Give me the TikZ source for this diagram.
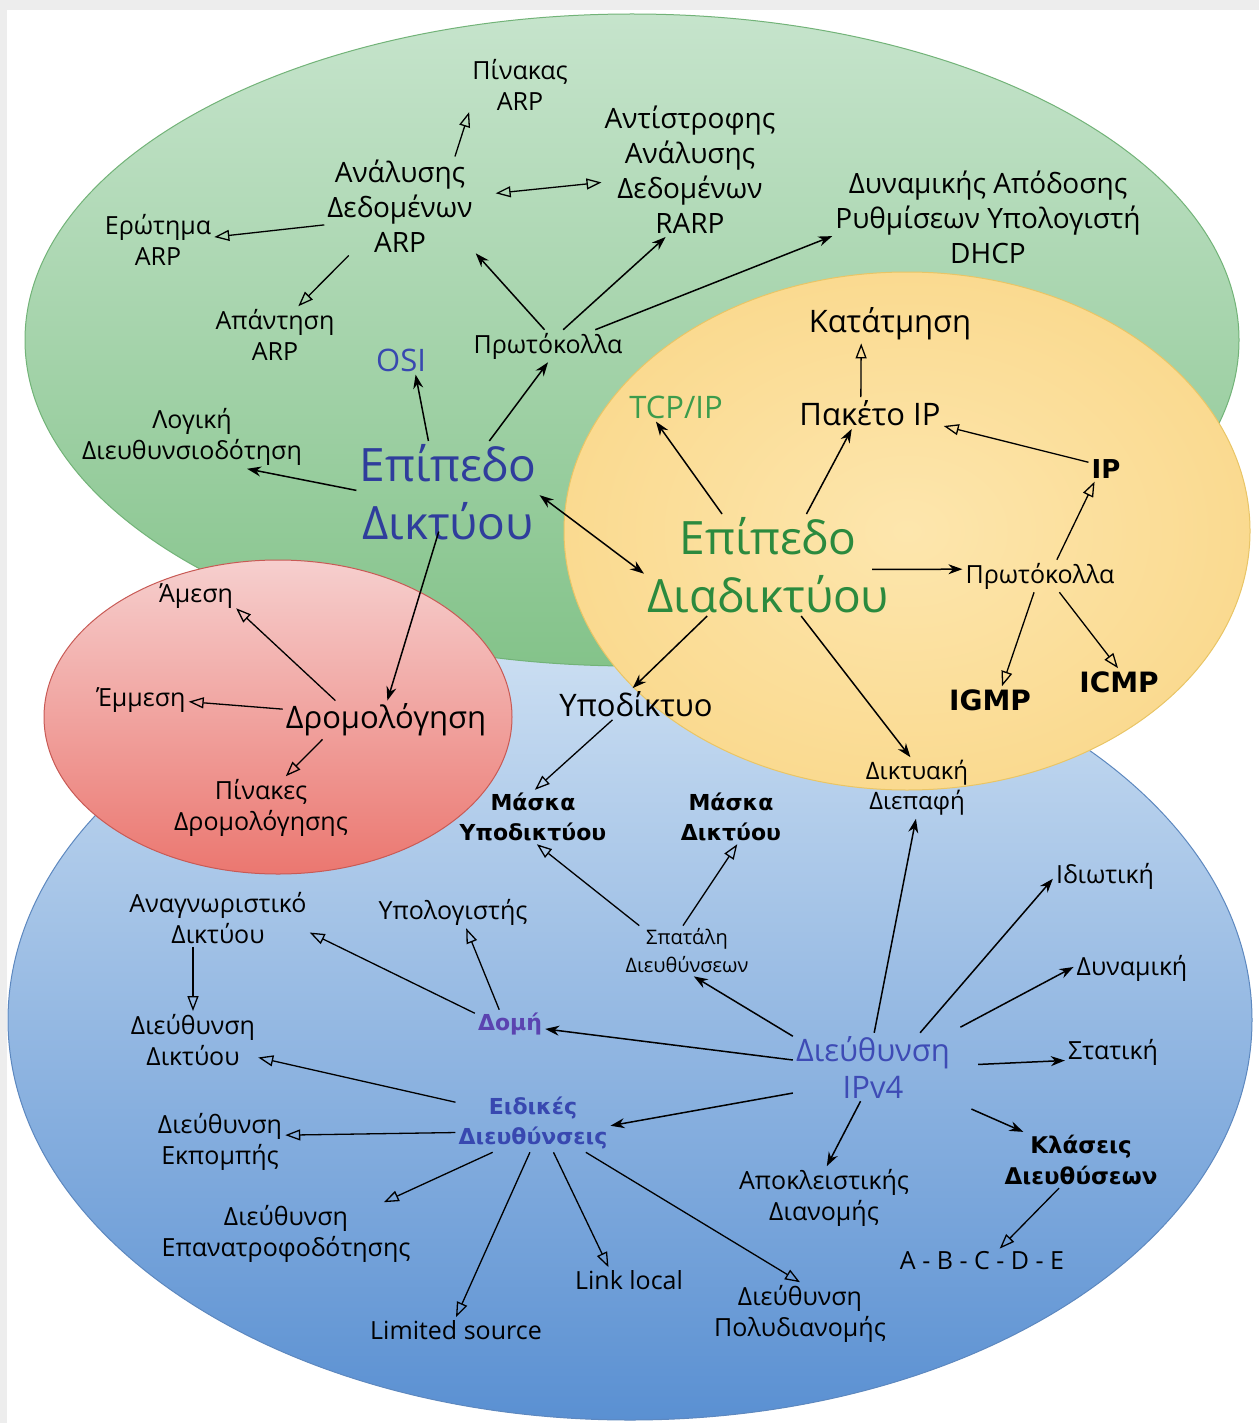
\documentclass[tikz,border=0pt]{standalone}
\usepackage{fontspec}
\setmainfont{Open Sans}
\newfontfamily\dvs{DejaVu Sans}
\usetikzlibrary{arrows.meta}
\definecolor{framegray}{HTML}{EDEDED}
\definecolor{gtop}{HTML}{C6E4CC}
\definecolor{gbot}{HTML}{84C38A}
\definecolor{gline}{HTML}{72B378}
\definecolor{yin}{HTML}{FDE6AD}
\definecolor{yout}{HTML}{FADA90}
\definecolor{yline}{HTML}{E9C566}
\definecolor{rtop}{HTML}{F6CFCE}
\definecolor{rbot}{HTML}{EB7770}
\definecolor{rline}{HTML}{C85A55}
\definecolor{btop}{HTML}{CFE1F3}
\definecolor{bbot}{HTML}{5A90D2}
\definecolor{bline}{HTML}{5D88BF}
\definecolor{edblue}{HTML}{2F3D9C}
\definecolor{osiblue}{HTML}{3848B0}
\definecolor{edigreen}{HTML}{2B8A3E}
\definecolor{tcpgreen}{HTML}{3C9C4C}
\definecolor{ipblue}{HTML}{3E4BB5}
\definecolor{domcol}{HTML}{5B43B0}
\definecolor{eidcol}{HTML}{3848B0}
\tikzset{
  ts/.style={font=\fontsize{25}{31}\selectfont, align=center, inner sep=3pt},
  tm/.style={font=\fontsize{28}{35}\selectfont, align=center, inner sep=3pt},
  tl/.style={font=\fontsize{31}{37}\selectfont, align=center, inner sep=3pt},
  tx/.style={font=\fontsize{20}{28}\selectfont, align=center, inner sep=3pt},
  big/.style={font=\fontsize{46}{58}\selectfont, align=center, inner sep=3pt},
  bs/.style={font=\dvs\bfseries\fontsize{22}{30}\selectfont, align=center, inner sep=3pt},
  bm/.style={font=\dvs\bfseries\fontsize{23}{31}\selectfont, align=center, inner sep=3pt},
  bl/.style={font=\dvs\bfseries\fontsize{28}{34}\selectfont, align=center, inner sep=3pt},
  fa/.style={arrows={-Stealth[length=14pt,width=10pt]}, line width=1.5pt},
  fab/.style={arrows={Stealth[length=14pt,width=10pt]-Stealth[length=14pt,width=10pt]}, line width=1.5pt},
  oa/.style={arrows={-Triangle[open,length=15pt,width=11pt]}, line width=1.3pt},
  oab/.style={arrows={Triangle[open,length=15pt,width=11pt]-Triangle[open,length=15pt,width=11pt]}, line width=1.3pt},
}
\begin{document}
\begin{tikzpicture}[x=1pt,y=-1pt]
\useasboundingbox (0,0) rectangle (1259,1423);
\fill[framegray] (0,0) rectangle (1259,1423);
\fill[white] (7,10) rectangle (1259,1423);
% regions
\shade[top color=btop, bottom color=bbot, draw=bline, line width=1pt] (630,1020) ellipse [x radius=622pt, y radius=400pt];
\shade[top color=gtop, bottom color=gbot, draw=gline, line width=1pt] (632,340) ellipse [x radius=607pt, y radius=326pt];
\shade[top color=rtop, bottom color=rbot, draw=rline, line width=1pt] (278,717) ellipse [x radius=234pt, y radius=157pt];
\shade[inner color=yin, outer color=yout, draw=yline, line width=1pt] (907,531) ellipse [x radius=343pt, y radius=259pt];

% green region texts
\node[ts] (pin) at (520,85) {Πίνακας\\ARP};
\node[tm] (ana) at (400,206) {Ανάλυσης\\Δεδομένων\\ARP};
\node[tm] (ant) at (690,170) {Αντίστροφης\\Ανάλυσης\\Δεδομένων\\RARP};
\node[tm] (dhcp) at (988,217) {Δυναμικής Απόδοσης\\Ρυθμίσεων Υπολογιστή\\DHCP};
\node[ts] (ero) at (158,240) {Ερώτημα\\ARP};
\node[ts] (apa) at (275,335) {Απάντηση\\ARP};
\node[tl, text=osiblue] (osi) at (401,360) {OSI};
\node[ts] (prg) at (548,346) {Πρωτόκολλα};
\node[ts] (log) at (192,437) {Λογική\\Διευθυνσιοδότηση};
\node[big, text=edblue] (ed) at (448,492) {Επίπεδο\\Δικτύου};

% yellow region texts
\node[bl, font=\dvs\bfseries\fontsize{26}{32}\selectfont] (ip) at (1106,469) {IP};
\node[tl] (kat) at (890,324) {Κατάτμηση};
\node[tl, text=tcpgreen] (tcp) at (676,407) {TCP/IP};
\node[tl] (pak) at (870,413) {Πακέτο IP};
\node[big, text=edigreen] (edi) at (768,565) {Επίπεδο\\Διαδικτύου};
\node[ts] (pry) at (1040,576) {Πρωτόκολλα};
\node[bl] (igmp) at (990,700) {IGMP};
\node[bl] (icmp) at (1119,682) {ICMP};
\node[tl] (ypo) at (636,704) {Υποδίκτυο};
\node[ts, font=\fontsize{24}{30}\selectfont] (dik) at (917,788) {Δικτυακή\\Διεπαφή};

% red region texts
\node[ts] (ame) at (196,596) {Άμεση};
\node[ts] (emm) at (141,700) {Έμμεση};
\node[tl] (dro) at (386,720) {Δρομολόγηση};
\node[ts] (pdr) at (261,808) {Πίνακες\\Δρομολόγησης};

% blue region texts
\node[bs] (msy) at (533,817) {Μάσκα\\Υποδικτύου};
\node[bs] (msd) at (731,817) {Μάσκα\\Δικτύου};
\node[ts] (ana2) at (218,918) {Αναγνωριστικό\\Δικτύου};
\node[ts] (ypl) at (453,912) {Υπολογιστής};
\node[tx] (spa) at (687,951) {Σπατάλη\\Διευθύνσεων};
\node[ts] (idi) at (1105,876) {Ιδιωτική};
\node[ts] (dyn) at (1132,968) {Δυναμική};
\node[ts] (ddi) at (193,1040) {Διεύθυνση\\Δικτύου};
\node[bs, text=domcol] (dom) at (510,1024) {Δομή};
\node[tl, text=ipblue] (ipv4) at (873,1067) {Διεύθυνση\\IPv4};
\node[ts] (sta) at (1113,1052) {Στατική};
\node[bs, text=eidcol] (eid) at (533,1123) {Ειδικές\\Διευθύνσεις};
\node[ts] (ekp) at (220,1142) {Διεύθυνση\\Εκπομπής};
\node[bm] (kla) at (1081,1160) {Κλάσεις\\Διευθύσεων};
\node[ts] (apo) at (824,1198) {Αποκλειστικής\\Διανομής};
\node[ts] (epa) at (286,1234) {Διεύθυνση\\Επανατροφοδότησης};
\node[ts] (abc) at (982,1261) {A - B - C - D - E};
\node[ts] (link) at (629,1280) {Link local};
\node[ts] (lim) at (456,1330) {Limited source};
\node[ts] (pol) at (800,1314) {Διεύθυνση\\Πολυδιανομής};

% green connectors
\draw[oa] (ana.42) -- (pin.208);
\draw[oab, shorten <=20pt] (ana.8) -- (ant.188);
\draw[oa] (ana.194) -- (ero.3);
\draw[oa] (ana.224) -- (apa.51);
\draw[fa] (prg.102) -- (ana.328);
\draw[fa] (prg.47) -- (ant.250);
\draw[fa] (prg.19) -- (dhcp.187);
\draw[fa] (ed.111) -- (osi.315);
\draw[fa] (ed.51) -- (prg.270);
\draw[fa] (ed.179) -- (log.330);
\draw[fab] (ed.358) -- (edi.184);
\draw[fa, shorten <=-12pt] (ed.256) -- (dro.86);
% yellow connectors
\draw[fa] (edi.132) -- (tcp.216);
\draw[fa] (edi.53) -- (pak.221);
\draw[oa] (pak.120) -- (kat.214);
\draw[oa] (ip.159) -- (pak.350);
\draw[fa, shorten <=-20pt] (edi.358) -- (pry.175);
\draw[oa] (pry.44) -- (ip.228);
\draw[oa] (pry.250) -- (igmp.49);
\draw[oa] (pry.320) -- (icmp.94);
\draw[fa] (edi.220) -- (ypo.102);
\draw[fa] (edi.303) -- (dik.102);
% red connectors
\draw[oa] (dro.159) -- (ame.343);
\draw[oa] (dro.174) -- (emm.358);
\draw[oa] (dro.197) -- (pdr.52);
% blue connectors
\draw[oa] (ypo.214) -- (msy.86);
\draw[oa] (spa.152) -- (msy.278);
\draw[oa] (spa.99) -- (msd.283);
\draw[fa] (ipv4.88) -- (dik.268);
\draw[fa] (ipv4.36) -- (idi.183);
\draw[fa, shorten <=12pt] (ipv4.24) -- (dyn.179);
\draw[fa, shorten <=25pt] (ipv4.1) -- (sta.190);
\draw[fa, shorten <=20pt] (ipv4.337) -- (kla.154);
\draw[fa] (ipv4.250) -- (apo.85);
\draw[fa] (ipv4.198) -- (eid.358);
\draw[fa] (ipv4.175) -- (dom.352);
\draw[fa] (ipv4.159) -- (spa.285);
\draw[oa] (kla.232) -- (abc.35);
\draw[oa] (dom.163) -- (ana2.351);
\draw[oa] (dom.127) -- (ypl.309);
\draw[oa] (ana2.south -| ddi.north) -- (ddi.north);
\draw[oa] (eid.165) -- (ddi.345);
\draw[oa] (eid.187) -- (ekp.6);
\draw[oa] (eid.216) -- (epa.18);
\draw[oa] (eid.264) -- (lim.90);
\draw[oa] (eid.305) -- (link.148);
\draw[oa] (eid.331) -- (pol.90);
\end{tikzpicture}
\end{document}
